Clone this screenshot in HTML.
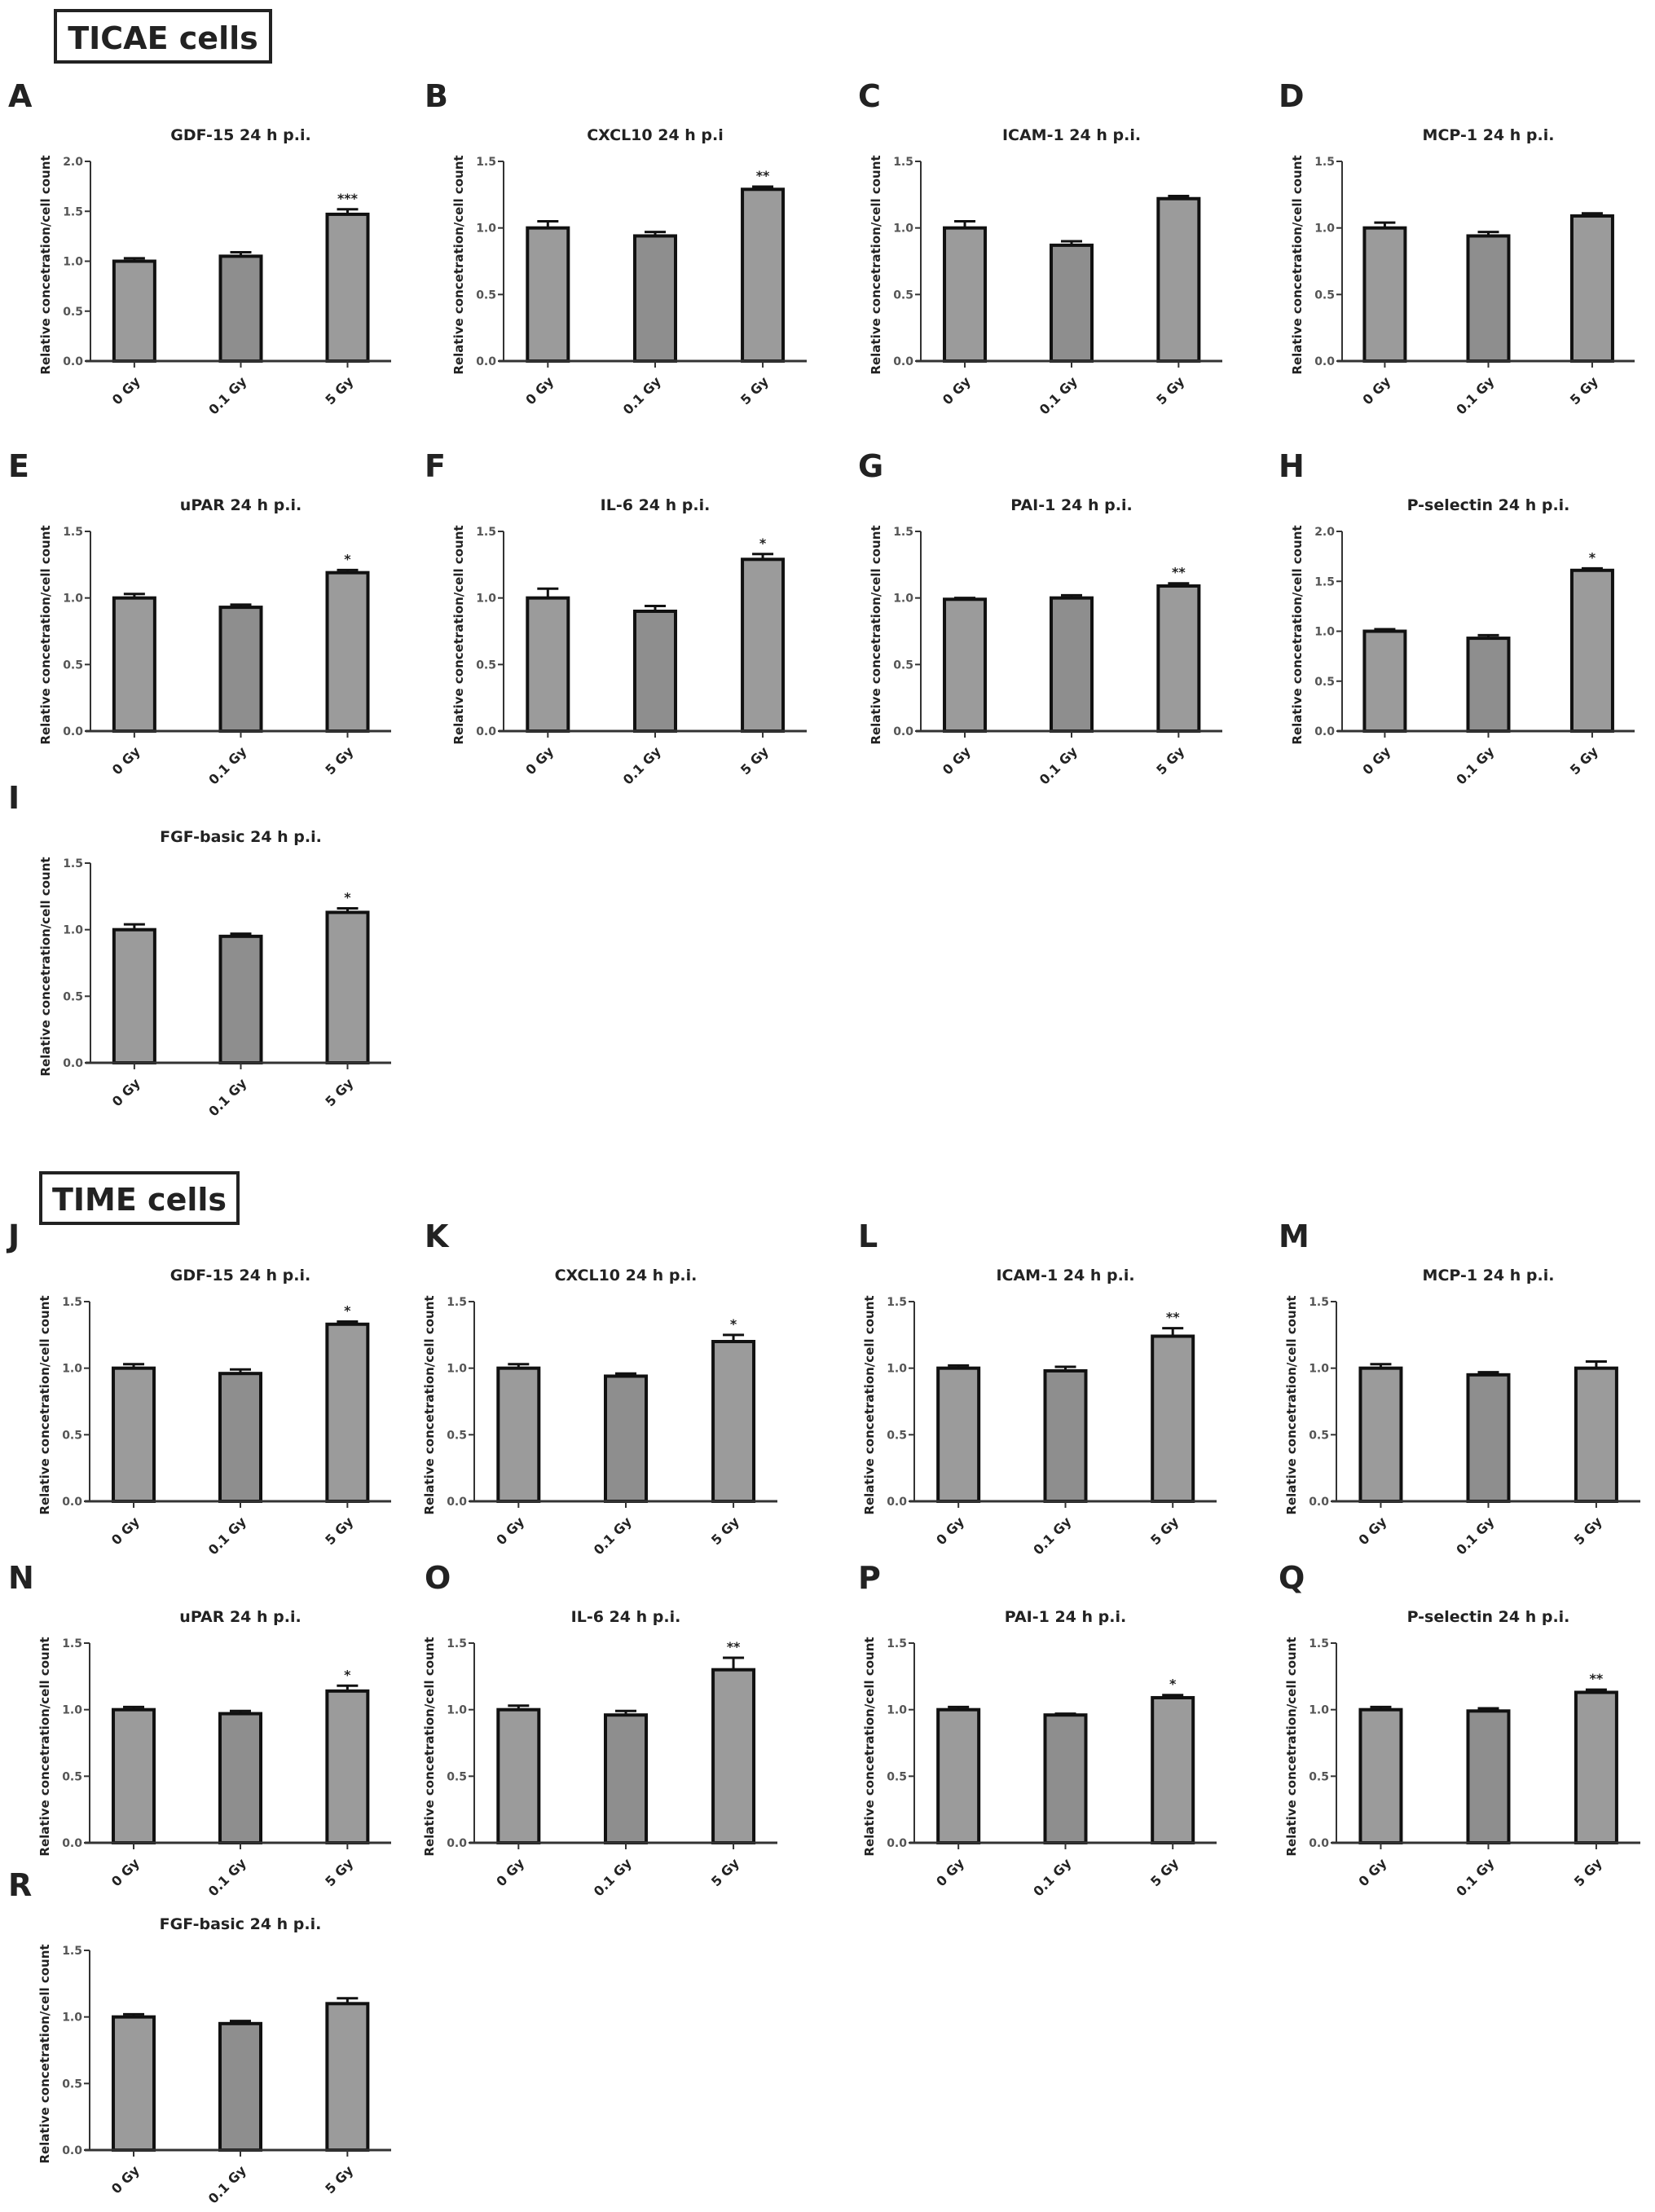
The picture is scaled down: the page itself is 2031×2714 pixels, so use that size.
<!DOCTYPE html>
<html><head><meta charset="utf-8">
<style>
html,body{margin:0;padding:0;background:#fff;}
svg{display:block;}
text{font-family:"DejaVu Sans","Liberation Sans",sans-serif;}
</style></head>
<body>
<svg id="fig" width="2031" height="2714" viewBox="0 0 2031 2714" xmlns="http://www.w3.org/2000/svg">
<g>
<rect x="68" y="13" width="264" height="63" fill="#fff" stroke="#222" stroke-width="4"/>
<text x="200" y="60" text-anchor="middle" font-size="38" font-weight="bold" fill="#222">TICAE cells</text>
</g>
<g>
<rect x="50" y="1439" width="242" height="62" fill="#fff" stroke="#222" stroke-width="4"/>
<text x="171" y="1485" text-anchor="middle" font-size="38" font-weight="bold" fill="#222">TIME cells</text>
</g>
</svg>
<script>
const panelLetters = ["A","B","C","D","E","F","G","H","I","J","K","L","M","N","O","P","Q","R"];
const panelTitles = ["GDF-15 24 h p.i.","CXCL10 24 h p.i","ICAM-1 24 h p.i.","MCP-1 24 h p.i.","uPAR 24 h p.i.","IL-6 24 h p.i.","PAI-1 24 h p.i.","P-selectin 24 h p.i.","FGF-basic 24 h p.i.",
"GDF-15 24 h p.i.","CXCL10 24 h p.i.","ICAM-1 24 h p.i.","MCP-1 24 h p.i.","uPAR 24 h p.i.","IL-6 24 h p.i.","PAI-1 24 h p.i.","P-selectin 24 h p.i.","FGF-basic 24 h p.i."];
const categories = ["0 Gy","0.1 Gy","5 Gy"];
const meanValues = [
[1.0,1.05,1.47],[1.0,0.94,1.29],[1.0,0.87,1.22],[1.0,0.94,1.09],
[1.0,0.93,1.19],[1.0,0.90,1.29],[0.99,1.0,1.09],[1.0,0.93,1.61],[1.0,0.95,1.13],
[1.0,0.96,1.33],[1.0,0.94,1.20],[1.0,0.98,1.24],[1.0,0.95,1.0],
[1.0,0.97,1.14],[1.0,0.96,1.30],[1.0,0.96,1.09],[1.0,0.99,1.13],[1.0,0.95,1.10]];
const errorValues = [
[0.03,0.04,0.05],[0.05,0.03,0.02],[0.05,0.03,0.02],[0.04,0.03,0.02],
[0.03,0.02,0.02],[0.07,0.04,0.04],[0.01,0.02,0.02],[0.02,0.03,0.02],[0.04,0.02,0.03],
[0.03,0.03,0.02],[0.03,0.02,0.05],[0.02,0.03,0.06],[0.03,0.02,0.05],
[0.02,0.02,0.04],[0.03,0.03,0.09],[0.02,0.01,0.02],[0.02,0.02,0.02],[0.02,0.02,0.04]];
const starLabels = ["***","**","","","*","*","**","*","*","*","*","**","","*","**","*","**",""];
const axisMax = [2.0,1.5,1.5,1.5,1.5,1.5,1.5,2.0,1.5,1.5,1.5,1.5,1.5,1.5,1.5,1.5,1.5,1.5];

// layout (not data)
const topCols = [[111,369],[618,372],[1130,370],[1647,359]];
const botCols = [[110,370],[582,372],[1122,371],[1640,373]];
const letterX = [10,521,1053,1569];
const topRows = [443,897,1304];
const botRows = [1842,2261,2638];
const AXH = 245;

const svg = document.getElementById('fig');
const NS = "http://www.w3.org/2000/svg";
function mk(tag, attrs, parent){
  const e = document.createElementNS(NS, tag);
  for (const k in attrs) e.setAttribute(k, attrs[k]);
  parent.appendChild(e);
  return e;
}

function layoutFor(i){
  const bottom = i >= 9;
  const j = bottom ? i-9 : i;
  const row = Math.floor(j/4), col = j%4;
  const cols = bottom ? botCols : topCols;
  const rows = bottom ? botRows : topRows;
  return {ax: cols[col][0], w: cols[col][1], oy: rows[row], lx: letterX[col]};
}

for (let i=0;i<18;i++){
  const L = layoutFor(i);
  const g = mk('g', {}, svg);
  
  
  const ymax = axisMax[i];
  const yS = v => L.oy - v/ymax*AXH;
  const xS = k => L.ax + L.w*[0.146,0.5,0.855][k];

  const lt = mk('text', {x:L.lx, y:L.oy-312, 'font-size':38, 'font-weight':'bold', fill:'#222', 'font-family':'"Liberation Sans",sans-serif'}, g);
  
  
  lt.textContent = panelLetters[i];

  const tt = mk('text', {x:L.ax+L.w/2, y:L.oy-271, 'text-anchor':'middle', 'font-size':19, 'font-weight':'bold', fill:'#222'}, g);
  
  
  tt.textContent = panelTitles[i];

  const yt = mk('text', {x:0, y:0, 'text-anchor':'middle', 'font-size':15, 'font-weight':'bold', fill:'#222',
    transform:`translate(${L.ax-50},${L.oy-118}) rotate(-90)`}, g);
  
  
  yt.textContent = 'Relative concetration/cell count';

  // bars
  for (let k=0;k<3;k++){
    const v = meanValues[i][k], e = errorValues[i][k];
    const cx = xS(k);
    const ey = yS(v+e);
    const el = mk('line', {x1:cx, x2:cx, y1:yS(v), y2:ey, stroke:'#111', 'stroke-width':3}, g);
    
    
    const cap = mk('line', {x1:cx-13, x2:cx+13, y1:ey, y2:ey, stroke:'#111', 'stroke-width':3}, g);
    
    
    const b = mk('rect', {x:cx-25, y:yS(v), width:50, height:L.oy-yS(v), fill: k===1 ? '#8e8e8e' : '#9b9b9b', stroke:'#111', 'stroke-width':4}, g);
    
    
    if (k===2 && starLabels[i]){
      const s = mk('text', {x:cx, y:ey-8, 'text-anchor':'middle', 'font-size':16, 'font-weight':'bold', fill:'#222'}, g);
      
      
      s.textContent = starLabels[i];
    }
    const tk = mk('line', {x1:cx, x2:cx, y1:L.oy, y2:L.oy+8, stroke:'#333', 'stroke-width':2}, g);
    
    
    const xl = mk('text', {x:0, y:0, 'text-anchor':'end', 'font-size':16, 'font-weight':'bold', fill:'#222',
      transform:`translate(${cx+8},${L.oy+26}) rotate(-45)`}, g);
    
    
    xl.textContent = categories[k];
  }
  // axes
  const ya = mk('line', {x1:L.ax, x2:L.ax, y1:L.oy, y2:L.oy-AXH, stroke:'#333', 'stroke-width':2}, g);
  
  
  const xa = mk('line', {x1:L.ax-6, x2:L.ax+L.w, y1:L.oy, y2:L.oy, stroke:'#333', 'stroke-width':3}, g);
  
  
  const nT = Math.round(ymax/0.5);
  for (let t=0;t<=nT;t++){
    const v = t*0.5, y = yS(v);
    const tl = mk('line', {x1:L.ax-7, x2:L.ax, y1:y, y2:y, stroke:'#333', 'stroke-width':2}, g);
    
    
    const tx = mk('text', {x:L.ax-9, y:y+5, 'text-anchor':'end', 'font-size':14, 'font-weight':'bold', fill:'#555', 'font-family':'"Liberation Serif",serif'}, g);
    
    
    tx.textContent = v.toFixed(1);
  }
}
</script>
</body></html>
